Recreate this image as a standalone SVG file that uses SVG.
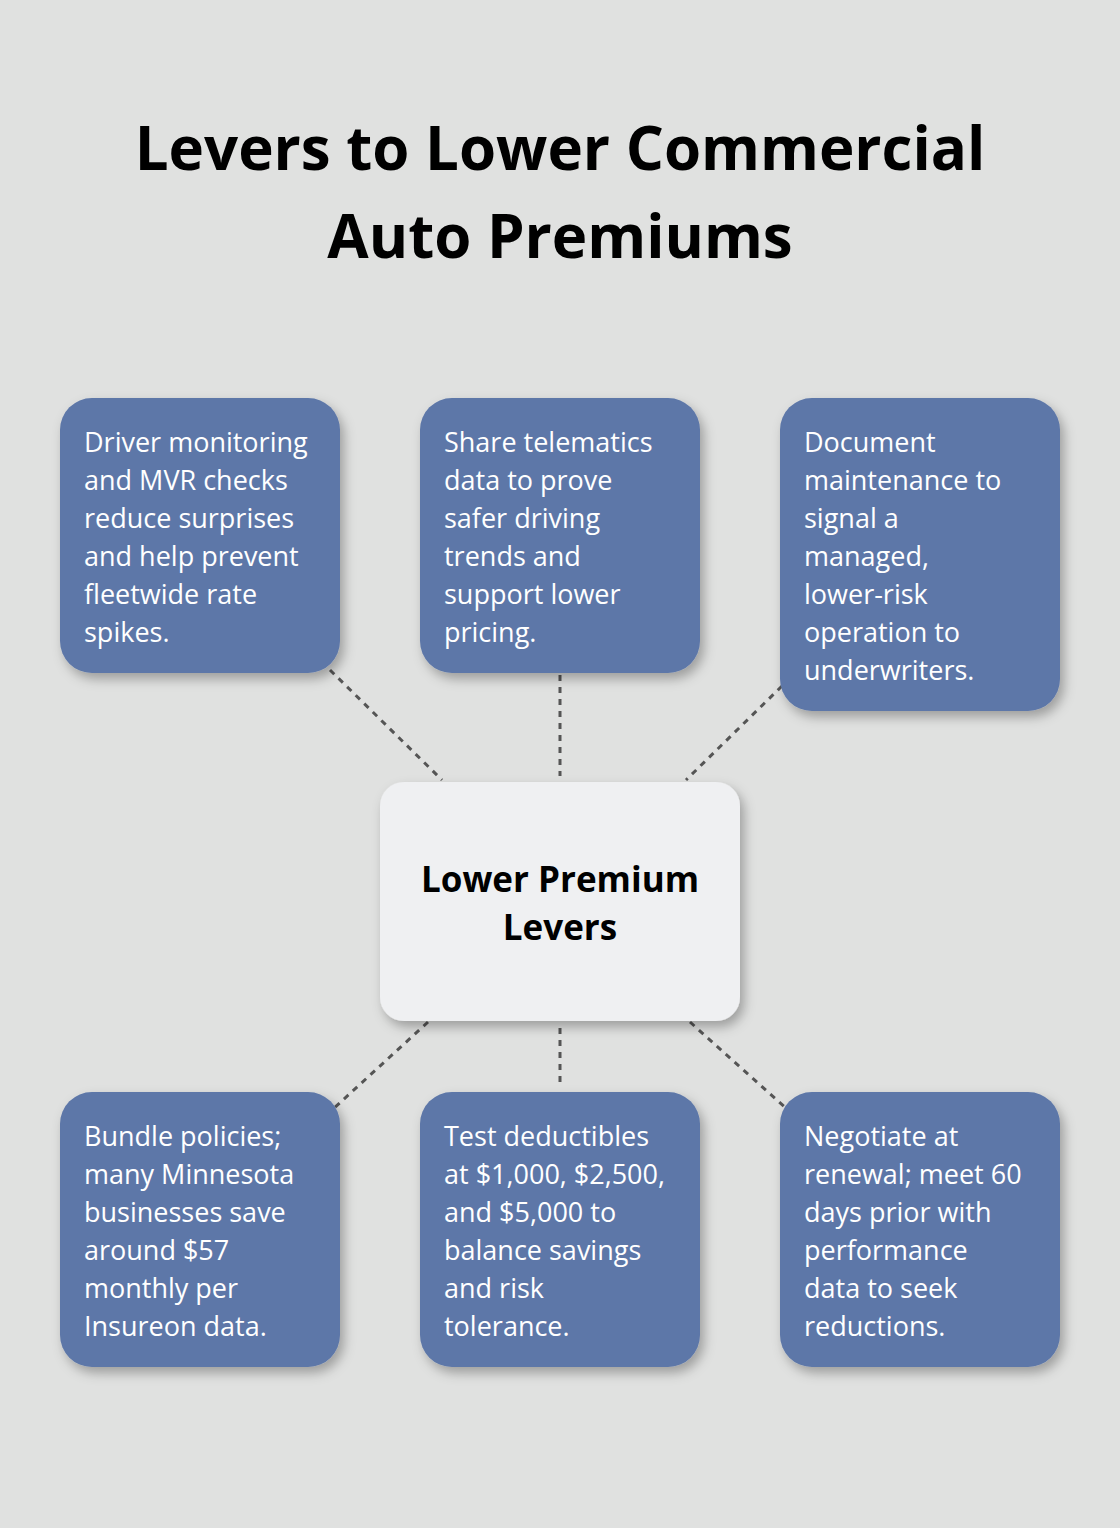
<svg xmlns="http://www.w3.org/2000/svg" width="1120" height="1528" viewBox="0 0 1120 1528">
<style>
.t{font-family:"Open Sans","Liberation Sans",sans-serif;}
.title{font-size:60px;font-weight:700;fill:#000;text-anchor:middle}
.box{fill:#5d77a8}
.bt{font-size:27px;fill:#fff}
.ct{font-size:35px;font-weight:700;fill:#000;text-anchor:middle}
.c{stroke:#555;stroke-width:3;stroke-dasharray:6,6;fill:none}
</style>
<defs><filter id="sh" x="-20%" y="-20%" width="140%" height="140%"><feDropShadow dx="4" dy="6" stdDeviation="6" flood-opacity="0.3"/></filter></defs>
<rect width="1120" height="1528" fill="#e0e1e0"/>
<text class="t title" x="560" y="170">Levers to Lower Commercial</text>
<text class="t title" x="560" y="258">Auto Premiums</text>
<g id="connectors">
<line class="c" x1="330" y1="670" x2="442" y2="780"/>
<line class="c" x1="560" y1="675" x2="560" y2="776"/>
<line class="c" x1="782" y1="686" x2="686" y2="780"/>
<line class="c" x1="428" y1="1022" x2="332" y2="1110"/>
<line class="c" x1="560" y1="1028" x2="560" y2="1088"/>
<line class="c" x1="690" y1="1022" x2="788" y2="1110"/>
</g>
<g id="center"><rect x="380" y="782" width="360" height="239" rx="24" fill="#eff0f2" filter="url(#sh)"/>
<text class="t ct" x="560" y="892">Lower Premium</text><text class="t ct" x="560" y="940">Levers</text></g>
<g id="n1"><rect class="box" x="60" y="398" width="280" height="275" rx="32" filter="url(#sh)"/>
<text class="t bt" x="84" y="452">Driver monitoring<tspan x="84" dy="38">and MVR checks</tspan><tspan x="84" dy="38">reduce surprises</tspan><tspan x="84" dy="38">and help prevent</tspan><tspan x="84" dy="38">fleetwide rate</tspan><tspan x="84" dy="38">spikes.</tspan></text></g>
<g id="n2"><rect class="box" x="420" y="398" width="280" height="275" rx="32" filter="url(#sh)"/>
<text class="t bt" x="444" y="452">Share telematics<tspan x="444" dy="38">data to prove</tspan><tspan x="444" dy="38">safer driving</tspan><tspan x="444" dy="38">trends and</tspan><tspan x="444" dy="38">support lower</tspan><tspan x="444" dy="38">pricing.</tspan></text></g>
<g id="n3"><rect class="box" x="780" y="398" width="280" height="313" rx="32" filter="url(#sh)"/>
<text class="t bt" x="804" y="452">Document<tspan x="804" dy="38">maintenance to</tspan><tspan x="804" dy="38">signal a</tspan><tspan x="804" dy="38">managed,</tspan><tspan x="804" dy="38">lower-risk</tspan><tspan x="804" dy="38">operation to</tspan><tspan x="804" dy="38">underwriters.</tspan></text></g>
<g id="n4"><rect class="box" x="60" y="1092" width="280" height="275" rx="32" filter="url(#sh)"/>
<text class="t bt" x="84" y="1146">Bundle policies;<tspan x="84" dy="38">many Minnesota</tspan><tspan x="84" dy="38">businesses save</tspan><tspan x="84" dy="38">around $57</tspan><tspan x="84" dy="38">monthly per</tspan><tspan x="84" dy="38">Insureon data.</tspan></text></g>
<g id="n5"><rect class="box" x="420" y="1092" width="280" height="275" rx="32" filter="url(#sh)"/>
<text class="t bt" x="444" y="1146">Test deductibles<tspan x="444" dy="38">at $1,000, $2,500,</tspan><tspan x="444" dy="38">and $5,000 to</tspan><tspan x="444" dy="38">balance savings</tspan><tspan x="444" dy="38">and risk</tspan><tspan x="444" dy="38">tolerance.</tspan></text></g>
<g id="n6"><rect class="box" x="780" y="1092" width="280" height="275" rx="32" filter="url(#sh)"/>
<text class="t bt" x="804" y="1146">Negotiate at<tspan x="804" dy="38">renewal; meet 60</tspan><tspan x="804" dy="38">days prior with</tspan><tspan x="804" dy="38">performance</tspan><tspan x="804" dy="38">data to seek</tspan><tspan x="804" dy="38">reductions.</tspan></text></g>
</svg>
